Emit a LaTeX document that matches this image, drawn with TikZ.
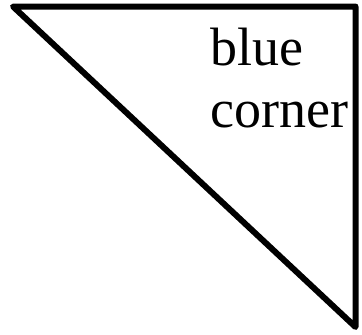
\documentclass[tikz,border=0pt]{standalone}
\usepackage{fontspec}
\setmainfont{Liberation Serif}
\tikzset{label text/.style={anchor=base west, inner sep=0pt, font=\fontsize{54bp}{62bp}\selectfont}}
\begin{document}
\begin{tikzpicture}[x=1bp, y=-1bp]
\useasboundingbox (0,0) rectangle (362,335);
\coordinate (A) at (13,6.5);
\coordinate (B) at (355.5,6.5);
\coordinate (C) at (355.5,327);
\draw[line width=6bp, line join=round] (A) -- (B) -- (C) -- cycle;
\node[label text] (blue) at (210,65) {blue};
\node[label text] (corner) at (210,127) {corner};
\end{tikzpicture}
\end{document}
